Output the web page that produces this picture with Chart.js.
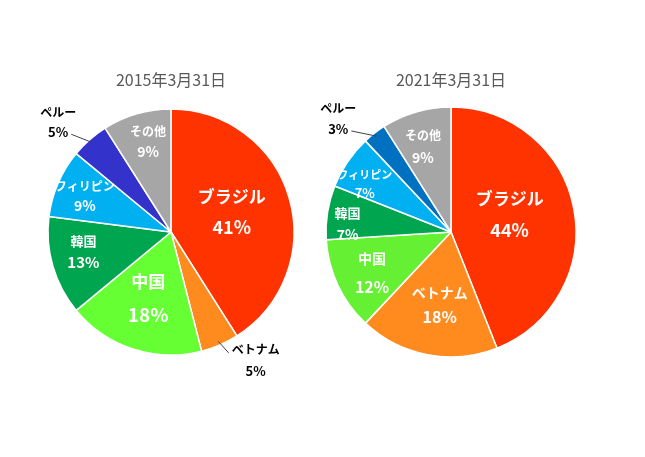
<!DOCTYPE html>
<html>
<head>
<meta charset="utf-8">
<script src="https://cdn.jsdelivr.net/npm/chart.js@4/dist/chart.umd.min.js"></script>
<style>
  html, body { margin: 0; padding: 0; background: #ffffff; }
  #wrap { position: relative; width: 645px; height: 457px; overflow: hidden; background: #fff; }
  canvas { position: absolute; top: 0; }
</style>
</head>
<body>
<div id="wrap">
  <canvas id="c1" width="342" height="457" style="left:0px"></canvas>
  <canvas id="c2" width="302" height="457" style="left:300px"></canvas>
</div>
<script>
// ---- data ----
const categories = ['ブラジル', 'ベトナム', '中国', '韓国', 'フィリピン', 'ペルー', 'その他'];
const values2015 = [41, 5, 18, 13, 9, 5, 9];
const values2021 = [44, 18, 12, 7, 7, 3, 9];
const titles = ['2015年3月31日', '2021年3月31日'];

// ---- styles ----
const colors2015 = ['#FF3300', '#FF8A1E', '#66FF33', '#00A64F', '#00B0F0', '#3333CC', '#A6A6A6'];
const colors2021 = ['#FF3300', '#FF8A1E', '#66F033', '#00A64F', '#00B0F0', '#0070C0', '#A6A6A6'];

// label placement: da = angle offset (deg) from slice middle, f = radius fraction
const labelStyle2015 = [
  {da: -2,   f: 0.52, gap: 31, fs1: 17, fs2: 18, out: false},
  {da: -10,  f: 1.25, gap: 21, fs1: 12, fs2: 13, out: true, line: 'nameLeft'},
  {da: 1,    f: 0.57, gap: 33, fs1: 17, fs2: 19, out: false},
  {da: 3.4,  f: 0.73, gap: 21, fs1: 13, fs2: 15, out: false},
  {da: -0.7, f: 0.76, gap: 19, fs1: 12, fs2: 14, out: false},
  {da: -4.4, f: 1.28, gap: 20, fs1: 12, fs2: 13, out: true, line: 'pctRight'},
  {da: 2,    f: 0.76, gap: 20, fs1: 12, fs2: 14, out: false}
];
const labelStyle2021 = [
  {da: -6,   f: 0.49, gap: 32, fs1: 17, fs2: 18, out: false},
  {da: -2,   f: 0.59, gap: 25, fs1: 14, fs2: 16, out: false},
  {da: -2,   f: 0.71, gap: 28, fs1: 14, fs2: 16, out: false},
  {da: -4.6, f: 0.83, gap: 21, fs1: 13, fs2: 14, out: false},
  {da: -5,   f: 0.79, gap: 18, fs1: 11, fs2: 13, out: false},
  {da: -7,   f: 1.28, gap: 21, fs1: 12, fs2: 13, out: true, line: 'pctRight'},
  {da: -2,   f: 0.72, gap: 22, fs1: 12, fs2: 14, out: false}
];

const FONT = '"Noto Sans CJK JP", "Noto Sans", sans-serif';

function makeLabelPlugin(title, styles) {
  return {
    id: 'pieLabels',
    afterDatasetsDraw(chart) {
      const ctx = chart.ctx;
      const meta = chart.getDatasetMeta(0);
      const ds = chart.data.datasets[0];
      ctx.save();
      ctx.textAlign = 'center';
      ctx.textBaseline = 'middle';
      meta.data.forEach((arc, i) => {
        const st = styles[i];
        const p = arc.getProps(['x', 'y', 'startAngle', 'endAngle', 'outerRadius'], true);
        const mid = (p.startAngle + p.endAngle) / 2;
        const a = mid + st.da * Math.PI / 180;
        const cx = p.x + Math.cos(a) * p.outerRadius * st.f;
        const cy = p.y + Math.sin(a) * p.outerRadius * st.f;
        const y1 = cy - st.gap / 2, y2 = cy + st.gap / 2;
        const name = chart.data.labels[i];
        const pct = ds.data[i] + '%';
        ctx.fillStyle = st.out ? '#000000' : '#FFFFFF';
        ctx.font = 'bold ' + st.fs1 + 'px ' + FONT;
        const w1 = ctx.measureText(name).width;
        ctx.fillText(name, cx, y1);
        ctx.font = 'bold ' + st.fs2 + 'px ' + FONT;
        const w2 = ctx.measureText(pct).width;
        ctx.fillText(pct, cx, y2);
        if (st.out) {
          const ex = p.x + Math.cos(mid) * p.outerRadius * 0.97;
          const ey = p.y + Math.sin(mid) * p.outerRadius * 0.97;
          let tx, ty;
          if (st.line === 'pctRight') { tx = cx + w2 / 2 + 3; ty = y2 + 2; }
          else { tx = cx - w1 / 2 - 3; ty = y1 + 3; }
          ctx.strokeStyle = '#404050';
          ctx.lineWidth = 1;
          ctx.beginPath();
          ctx.moveTo(ex, ey);
          ctx.lineTo(tx, ty);
          ctx.stroke();
        }
      });
      // title
      const p0 = meta.data[0].getProps(['x', 'y', 'outerRadius'], true);
      ctx.fillStyle = '#595959';
      ctx.font = '16px ' + FONT;
      ctx.fillText(title, p0.x, p0.y - 152);
      ctx.restore();
    }
  };
}

function makePie(id, values, colors, radius, title, styles) {
  return new Chart(document.getElementById(id), {
    type: 'pie',
    data: {
      labels: categories,
      datasets: [{
        data: values,
        backgroundColor: colors,
        borderColor: '#FFFFFF',
        borderWidth: 1.5
      }]
    },
    options: {
      responsive: false,
      animation: false,
      radius: radius,
      layout: { padding: { top: 7, bottom: 0, left: 0, right: 0 } },
      plugins: {
        legend: { display: false },
        tooltip: { enabled: false },
        title: { display: false }
      }
    },
    plugins: [makeLabelPlugin(title, styles)]
  });
}

makePie('c1', values2015, colors2015, 123, titles[0], labelStyle2015);
makePie('c2', values2021, colors2021, 125, titles[1], labelStyle2021);
</script>
</body>
</html>
